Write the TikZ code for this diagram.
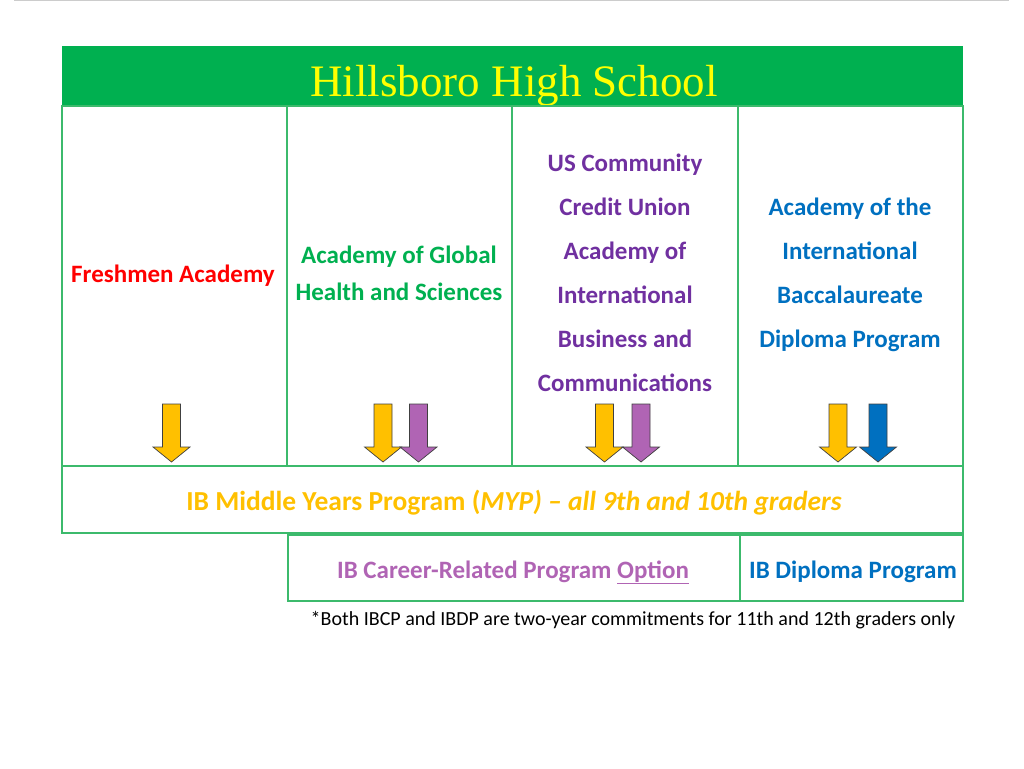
\documentclass[tikz,border=0pt]{standalone}
\usepackage{fontspec}
\setmainfont{Carlito}
\newfontfamily\titlefont{Liberation Serif}

\definecolor{barGreen}{HTML}{00B050}
\definecolor{lineGreen}{HTML}{3CBA6C}
\definecolor{acRed}{HTML}{FF0000}
\definecolor{acGreen}{HTML}{00B050}
\definecolor{acPurple}{HTML}{7030A0}
\definecolor{acBlue}{HTML}{0070C0}
\definecolor{acGold}{HTML}{FFC000}
\definecolor{acLilac}{HTML}{B064B4}
\definecolor{titleYellow}{HTML}{FFFF00}

\tikzset{
	boxline/.style = {draw = lineGreen, line width = 1.3pt},
	academy/.style = {font = \fontsize{25}{44}\selectfont\bfseries, align = center, inner sep = 0pt},
	program/.style = {font = \fontsize{25}{30}\selectfont\bfseries, anchor = base, inner sep = 0pt},
	blockarrow/.style = {draw = black!75, line width = 0.7pt, line join = miter},
}

\begin{document}
\begin{tikzpicture}[x = 1pt, y = -1pt]
	 \useasboundingbox (0, 0) rectangle (1024, 768);
	 \draw[line width = 1.5pt, gray!40] (14, 0.75) -- (1009, 0.75);
	 
	 % title bar
	 \fill[barGreen] (62, 46) rectangle (963, 106);
	 \node[font = \titlefont\fontsize{45}{52}\selectfont, text = titleYellow, anchor = base] (title) at (514, 96) {Hillsboro High School};
	 
	 % academy columns
	 \draw[boxline] (62, 106) rectangle (287, 466);
	 \draw[boxline] (287, 106) rectangle (512, 466);
	 \draw[boxline] (512, 106) rectangle (738, 466);
	 \draw[boxline] (738, 106) rectangle (963, 466);
	 
	 \node[academy, text = acRed, anchor = base] (fresh) at (173, 282) {Freshmen Academy};
	 \node[academy, text = acGreen, font = \fontsize{25}{37}\selectfont\bfseries] (global) at (399, 273) {Academy of Global\\Health and Sciences};
	 \node[academy, text = acPurple] (business) at (625, 273) {US Community\\Credit Union\\Academy of\\International\\Business and\\Communications};
	 \node[academy, text = acBlue] (ibacad) at (850, 275) {Academy of the\\International\\Baccalaureate\\Diploma Program};
	 
	 \foreach \x/\c in {171.5/acGold, 383/acGold, 418.5/acLilac, 604.5/acGold, 641/acLilac, 838/acGold, 878/acBlue}
	 \draw[blockarrow, fill = \c] ({\x - 9}, 404) -- ({\x + 9}, 404) -- ({\x + 9}, 447) -- ({\x + 18.5}, 447) -- (\x, 462) -- ({\x - 18.5}, 447) -- ({\x - 9}, 447) -- cycle;
	 
	 % programs
	 \draw[boxline] (62, 466) rectangle (963, 533);
	 \node[program, text = acGold, font = \fontsize{27.5}{32}\selectfont\bfseries] (myp) at (514, 510) {IB Middle Years Program (\textit{MYP) – all 9th and 10th graders}};
	 
	 \draw[boxline] (288, 535) rectangle (740, 601);
	 \draw[boxline] (740, 535) rectangle (963, 601);
	 \node[program, text = acLilac] (ibcp) at (513, 578) {IB Career-Related Program \underline{Option}};
	 \node[program, text = acBlue] (ibdp) at (853, 578) {IB Diploma Program};
	 
	 \node[font = \fontsize{20}{24}\selectfont, anchor = base] (note) at (633, 625) {*Both IBCP and IBDP are two-year commitments for 11th and 12th graders only};
\end{tikzpicture}
\end{document}
